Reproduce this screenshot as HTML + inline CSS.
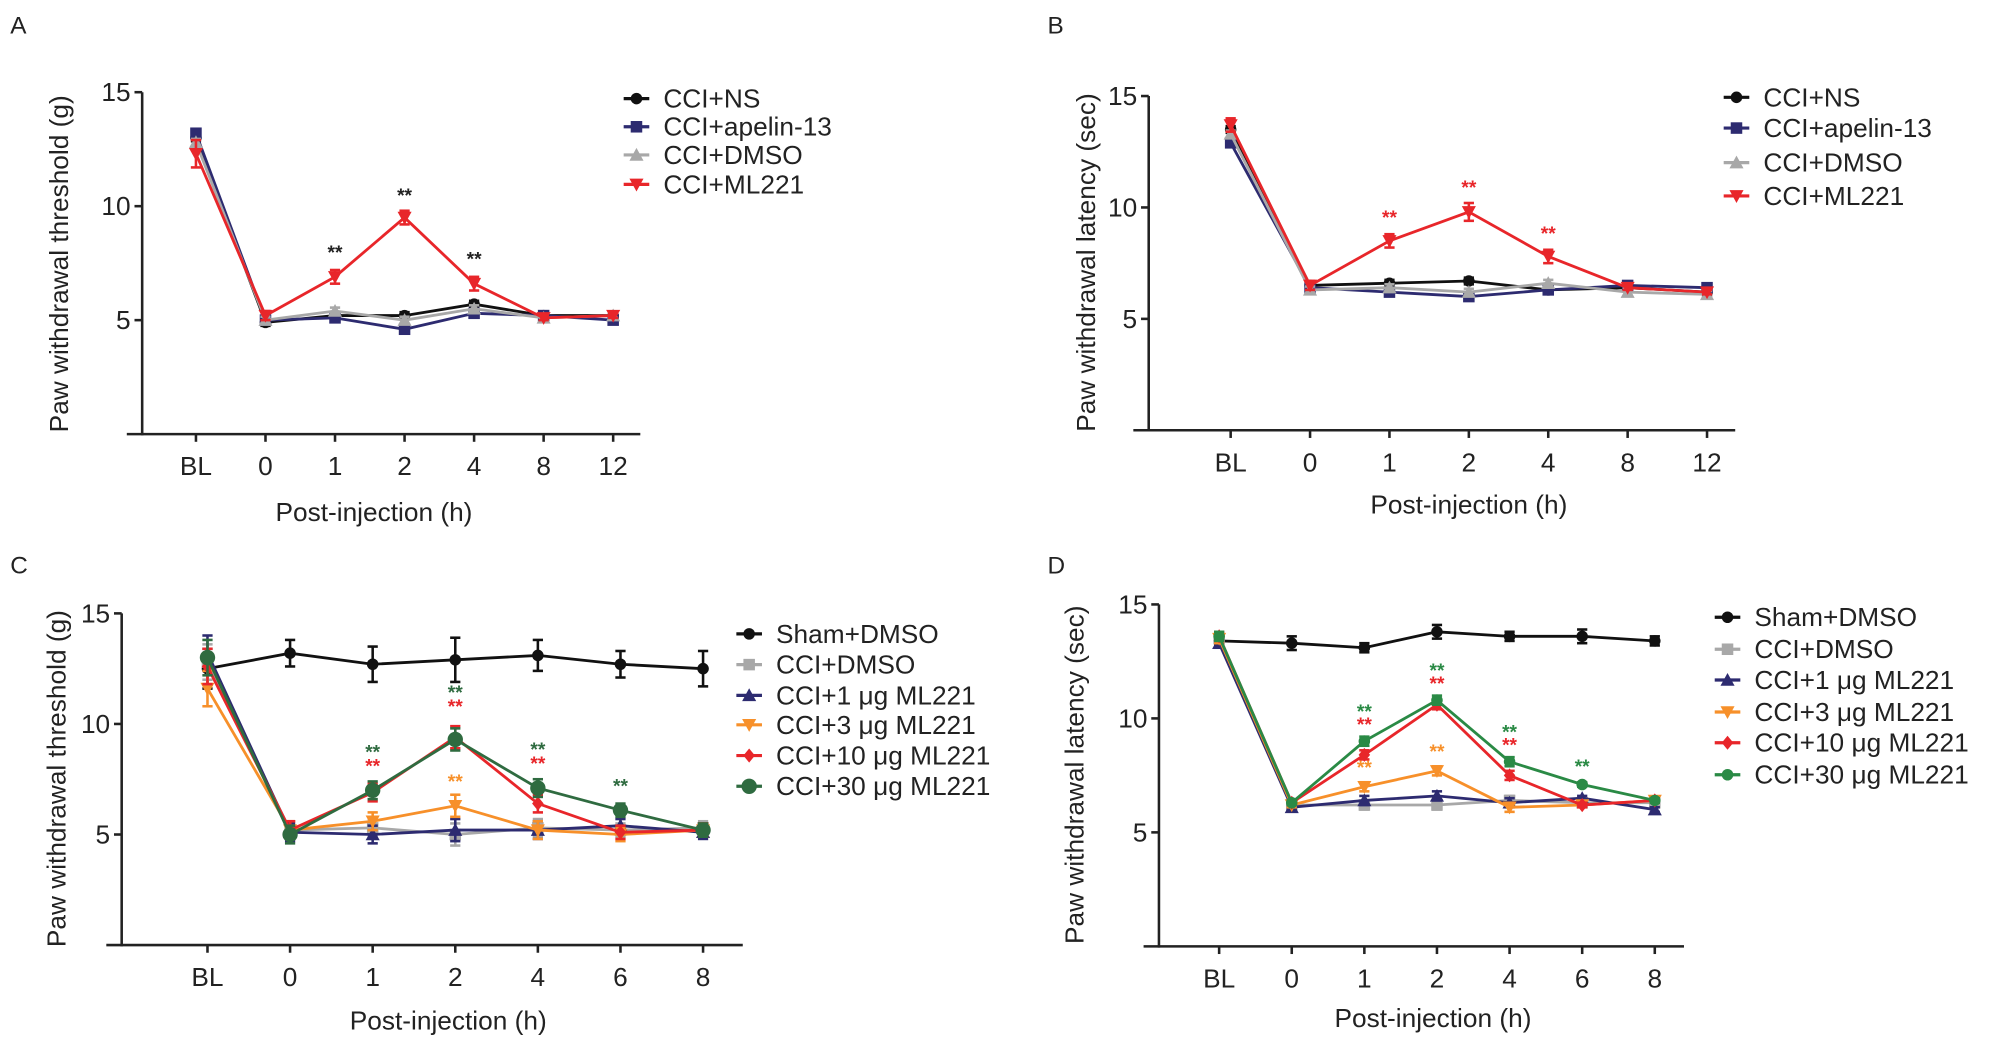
<!DOCTYPE html>
<html><head><meta charset="utf-8">
<style>
html,body{margin:0;padding:0;background:#fff;}
svg{display:block;font-family:"Liberation Sans",Arial,sans-serif;}
</style></head>
<body>
<svg id="fig" width="2008" height="1047" viewBox="0 0 1568 817.6" xmlns="http://www.w3.org/2000/svg"></svg>
<script>
// ---- Data ----
const catsAB = ["BL","0","1","2","4","8","12"];
const catsCD = ["BL","0","1","2","4","6","8"];
const yTicks = [5,10,15];

const A_NS    = [13.0,4.9,5.2,5.2,5.7,5.2,5.2];
const A_apel  = [13.2,5.0,5.1,4.6,5.3,5.2,5.0];
const A_DMSO  = [12.8,5.0,5.4,5.0,5.5,5.1,5.2];
const A_ML    = [12.3,5.2,6.9,9.5,6.6,5.1,5.2];
const A_MLerr = [0.6,0.2,0.3,0.3,0.3,0.1,0.1];

const B_NS    = [13.5,6.5,6.6,6.7,6.3,6.4,6.2];
const B_apel  = [12.9,6.4,6.2,6.0,6.3,6.5,6.4];
const B_DMSO  = [13.3,6.3,6.4,6.2,6.6,6.2,6.1];
const B_ML    = [13.7,6.5,8.5,9.8,7.8,6.4,6.2];
const B_MLerr = [0.3,0.2,0.3,0.4,0.3,0.1,0.1];

const C_sham  = [12.5,13.2,12.7,12.9,13.1,12.7,12.5];
const C_shamErr=[0.9,0.6,0.8,1.0,0.7,0.6,0.8];
const C_DMSO  = [12.8,5.2,5.3,5.0,5.3,5.2,5.3];
const C_1     = [13.2,5.1,5.0,5.2,5.2,5.4,5.1];
const C_3     = [11.6,5.2,5.6,6.3,5.2,5.0,5.2];
const C_10    = [12.6,5.2,6.9,9.4,6.4,5.1,5.2];
const C_30    = [13.0,5.0,7.0,9.3,7.1,6.1,5.2];
const C_err   = [0.8,0.4,0.4,0.5,0.4,0.3,0.3];

const D_sham  = [13.4,13.3,13.1,13.8,13.6,13.6,13.4];
const D_shamErr=[0.2,0.3,0.2,0.3,0.2,0.3,0.2];
const D_DMSO  = [13.5,6.2,6.2,6.2,6.4,6.3,6.3];
const D_1     = [13.3,6.1,6.4,6.6,6.3,6.5,6.0];
const D_3     = [13.5,6.2,7.0,7.7,6.1,6.2,6.4];
const D_10    = [13.6,6.3,8.4,10.6,7.5,6.2,6.4];
const D_30    = [13.6,6.3,9.0,10.8,8.1,7.1,6.4];
const D_err   = [0.2,0.1,0.2,0.2,0.2,0.1,0.1];

const NS="http://www.w3.org/2000/svg";
const svg=document.getElementById('fig');
function el(tag,attrs,parent){const e=document.createElementNS(NS,tag);for(const k in attrs)e.setAttribute(k,attrs[k]);(parent||svg).appendChild(e);return e;}
function txt(s,attrs,parent){const e=el('text',attrs,parent);e.textContent=s;return e;}

function marker(g,shape,x,y,color,size){
  const s=size||4.5;let m;
  if(shape==='circle') m=el('circle',{cx:x,cy:y,r:s,fill:color},g);
  else if(shape==='bigcircle') m=el('circle',{cx:x,cy:y,r:s+1.5,fill:color},g);
  else if(shape==='square') m=el('rect',{x:x-s,y:y-s,width:2*s,height:2*s,fill:color},g);
  else if(shape==='up') m=el('polygon',{points:`${x},${y-s-1} ${x-s-1},${y+s} ${x+s+1},${y+s}`,fill:color},g);
  else if(shape==='down') m=el('polygon',{points:`${x},${y+s+1} ${x-s-1},${y-s} ${x+s+1},${y-s}`,fill:color},g);
  else m=el('polygon',{points:`${x},${y-s-1} ${x+s},${y} ${x},${y+s+1} ${x-s},${y}`,fill:color},g);
  return m;
}

function panel(cfg){
  const g=el('g',{});
  
  
  const yScale=v=>cfg.y0-(v/15)*(cfg.y0-cfg.y15);
  const xScale=i=>cfg.xs[0]+i*cfg.dx;
  const lab=txt(cfg.letter,{x:cfg.lx,y:cfg.ly,'font-size':19,fill:'#222'},g);
  
  const ya=el('line',{x1:cfg.ax,y1:cfg.y15,x2:cfg.ax,y2:cfg.y0+1,stroke:'#222','stroke-width':2},g);
  
  const xa=el('line',{x1:cfg.ax-12,y1:cfg.y0,x2:cfg.xend,y2:cfg.y0,stroke:'#222','stroke-width':2},g);
  
  yTicks.forEach(t=>{
    const y=yScale(t);
    el('line',{x1:cfg.ax-6,y1:y,x2:cfg.ax,y2:y,stroke:'#222','stroke-width':2},g);
    const tl=txt(String(t),{x:cfg.ax-9,y:y+7,'font-size':20.5,'text-anchor':'end',fill:'#222'},g);
    
  });
  cfg.cats.forEach((c,i)=>{
    const x=xScale(i);
    el('line',{x1:x,y1:cfg.y0,x2:x,y2:cfg.y0+6,stroke:'#222','stroke-width':2},g);
    const tl=txt(c,{x:x,y:cfg.y0+32,'font-size':20.5,'text-anchor':'middle',fill:'#222'},g);
    
  });
  const xt=txt('Post-injection (h)',{x:cfg.xtx,y:cfg.xty,'font-size':20.5,'text-anchor':'middle',fill:'#222'},g);
  
  const yt=txt(cfg.ytitle,{x:0,y:0,'font-size':20.5,'text-anchor':'middle',fill:'#222',transform:`translate(${cfg.ytx},${cfg.yty}) rotate(-90)`},g);
  
  cfg.series.forEach((s,si)=>{
    const sg=el('g',{},g);
    
    
    const pts=s.vals.map((v,i)=>`${xScale(i)},${yScale(v)}`).join(' ');
    el('polyline',{points:pts,fill:'none',stroke:s.color,'stroke-width':2.2},sg);
    s.vals.forEach((v,i)=>{
      const e=s.err?s.err[i]:0.15;
      const x=xScale(i),y1=yScale(v-e),y2=yScale(v+e);
      el('line',{x1:x,y1:y1,x2:x,y2:y2,stroke:s.color,'stroke-width':2},sg);
      el('line',{x1:x-4,y1:y1,x2:x+4,y2:y1,stroke:s.color,'stroke-width':2},sg);
      el('line',{x1:x-4,y1:y2,x2:x+4,y2:y2,stroke:s.color,'stroke-width':2},sg);
      const m=marker(sg,s.shape,x,yScale(v),s.color,s.size);
      
      
    });
    const ly=cfg.legY[si];
    const lg=el('g',{},g);
    
    
    el('line',{x1:cfg.legX-10,y1:ly,x2:cfg.legX+10,y2:ly,stroke:s.color,'stroke-width':2.5},lg);
    marker(lg,s.shape,cfg.legX,ly,s.color,s.size);
    txt(s.label,{x:cfg.legX+21,y:ly+7,'font-size':20.5,fill:'#222'},lg);
  });
  cfg.stars.forEach(st=>{
    const t=txt('**',{x:xScale(st.i),y:yScale(st.v)+st.dy,'font-size':15,'text-anchor':'middle',fill:st.color,'font-weight':'bold'},g);
    
    
  });
}

const BLK='#111',NAVY='#2d2b70',GRY='#a8a8a8',RED='#e8262a',ORG='#f7902a',GRN='#2f6b40',GRN2='#2a8a45';

panel({name:'panel-a',letter:'A',lx:8,ly:26,ax:111,y0:339,y15:72,xend:500,xs:[153],dx:54.3,cats:catsAB,
  xtx:292,xty:407,ytx:53,yty:206,ytitle:'Paw withdrawal threshold (g)',legX:497,legY:[77,99,121,144],
  series:[
   {key:'cci-ns',label:'CCI+NS',vals:A_NS,color:BLK,shape:'circle'},
   {key:'cci-apelin',label:'CCI+apelin-13',vals:A_apel,color:NAVY,shape:'square'},
   {key:'cci-dmso',label:'CCI+DMSO',vals:A_DMSO,color:GRY,shape:'up'},
   {key:'cci-ml221',label:'CCI+ML221',vals:A_ML,err:A_MLerr,color:RED,shape:'down'}],
  stars:[{i:2,v:A_ML[2],dy:-14,color:'#222'},{i:3,v:A_ML[3],dy:-12,color:'#222'},{i:4,v:A_ML[4],dy:-14,color:'#222'}]});

panel({name:'panel-b',letter:'B',lx:818,ly:26,ax:897,y0:336,y15:75,xend:1355,xs:[961],dx:62,cats:catsAB,
  xtx:1147,xty:401,ytx:855,yty:205,ytitle:'Paw withdrawal latency (sec)',legX:1356,legY:[76,100,127,153],
  series:[
   {key:'cci-ns',label:'CCI+NS',vals:B_NS,color:BLK,shape:'circle'},
   {key:'cci-apelin',label:'CCI+apelin-13',vals:B_apel,color:NAVY,shape:'square'},
   {key:'cci-dmso',label:'CCI+DMSO',vals:B_DMSO,color:GRY,shape:'up'},
   {key:'cci-ml221',label:'CCI+ML221',vals:B_ML,err:B_MLerr,color:RED,shape:'down'}],
  stars:[{i:2,v:B_ML[2],dy:-13,color:RED},{i:3,v:B_ML[3],dy:-14,color:RED},{i:4,v:B_ML[4],dy:-13,color:RED}]});

panel({name:'panel-c',letter:'C',lx:8,ly:448,ax:95,y0:738,y15:479,xend:580,xs:[162],dx:64.5,cats:catsCD,
  xtx:350,xty:804,ytx:51,yty:608,ytitle:'Paw withdrawal threshold (g)',legX:585,legY:[495,519,543,566,590,614],
  series:[
   {key:'sham-dmso',label:'Sham+DMSO',vals:C_sham,err:C_shamErr,color:BLK,shape:'circle'},
   {key:'cci-dmso',label:'CCI+DMSO',vals:C_DMSO,err:C_err,color:GRY,shape:'square'},
   {key:'cci-1ug',label:'CCI+1 μg ML221',vals:C_1,err:C_err,color:NAVY,shape:'up'},
   {key:'cci-3ug',label:'CCI+3 μg ML221',vals:C_3,err:C_err,color:ORG,shape:'down'},
   {key:'cci-10ug',label:'CCI+10 μg ML221',vals:C_10,err:C_err,color:RED,shape:'diamond'},
   {key:'cci-30ug',label:'CCI+30 μg ML221',vals:C_30,err:C_err,color:GRN,shape:'bigcircle'}],
  stars:[{i:2,v:C_30[2],dy:-25,color:GRN},{i:2,v:C_30[2],dy:-14,color:RED},
         {i:3,v:C_10[3],dy:-30,color:GRN},{i:3,v:C_10[3],dy:-19,color:RED},
         {i:3,v:C_3[3],dy:-14,color:ORG},
         {i:4,v:C_30[4],dy:-25,color:GRN},{i:4,v:C_30[4],dy:-14,color:RED},
         {i:5,v:C_30[5],dy:-14,color:GRN}]});

panel({name:'panel-d',letter:'D',lx:818,ly:448,ax:905,y0:739,y15:472,xend:1315,xs:[952],dx:56.7,cats:catsCD,
  xtx:1119,xty:802,ytx:846,yty:605,ytitle:'Paw withdrawal latency (sec)',legX:1349,legY:[482,507,531,556,580,605],
  series:[
   {key:'sham-dmso',label:'Sham+DMSO',vals:D_sham,err:D_shamErr,color:BLK,shape:'circle'},
   {key:'cci-dmso',label:'CCI+DMSO',vals:D_DMSO,err:D_err,color:GRY,shape:'square'},
   {key:'cci-1ug',label:'CCI+1 μg ML221',vals:D_1,err:D_err,color:NAVY,shape:'up'},
   {key:'cci-3ug',label:'CCI+3 μg ML221',vals:D_3,err:D_err,color:ORG,shape:'down'},
   {key:'cci-10ug',label:'CCI+10 μg ML221',vals:D_10,err:D_err,color:RED,shape:'diamond'},
   {key:'cci-30ug',label:'CCI+30 μg ML221',vals:D_30,err:D_err,color:GRN2,shape:'circle'}],
  stars:[{i:2,v:D_30[2],dy:-18,color:GRN2},{i:2,v:D_30[2],dy:-8,color:RED},{i:2,v:D_3[2],dy:-10,color:ORG},
         {i:3,v:D_30[3],dy:-18,color:GRN2},{i:3,v:D_30[3],dy:-8,color:RED},{i:3,v:D_3[3],dy:-10,color:ORG},
         {i:4,v:D_30[4],dy:-18,color:GRN2},{i:4,v:D_30[4],dy:-8,color:RED},
         {i:5,v:D_30[5],dy:-9,color:GRN2}]});
</script>
</body></html>
